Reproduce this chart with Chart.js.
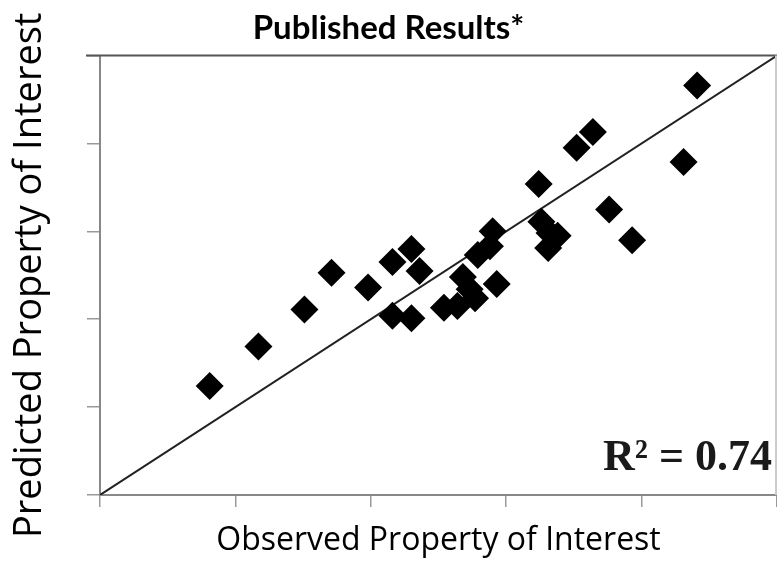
<!DOCTYPE html>
<html>
<head>
<meta charset="utf-8">
<script src="https://cdn.jsdelivr.net/npm/chart.js@4.4.1/dist/chart.umd.min.js"></script>
<style>
  html, body { margin: 0; padding: 0; background: #fff; }
  #wrap { width: 777px; height: 574px; position: relative; }
</style>
</head>
<body>
<div id="wrap"><canvas id="mainChart"></canvas></div>
<script>
// observed (x) vs predicted (y), axis units 0..5
const observed = [0.81, 1.17, 1.51, 1.71, 1.98, 2.16, 2.16, 2.30, 2.30, 2.36,
                  2.54, 2.64, 2.68, 2.73, 2.77, 2.79, 2.88, 2.90, 2.93, 3.24,
                  3.26, 3.32, 3.38, 3.31, 3.52, 3.64, 3.76, 3.93, 4.31, 4.41];
const predicted = [1.24, 1.69, 2.11, 2.53, 2.36, 2.65, 2.04, 2.80, 2.01, 2.55,
                   2.13, 2.15, 2.48, 2.34, 2.24, 2.73, 2.83, 3.00, 2.40, 3.54,
                   3.11, 2.98, 2.95, 2.81, 3.95, 4.13, 3.25, 2.90, 3.79, 4.66];
const parityLine = [{ x: 0, y: 0 }, { x: 5, y: 5 }];
const axisMin = 0;
const axisMax = 5;
const rSquared = 'R\u00B2 = 0.74';

const points = observed.map((x, i) => ({ x, y: predicted[i] }));

// frame around the plot + the R² note
const framePlugin = {
    id: 'frame',
    afterDraw(chart) {
        const { ctx, chartArea: a } = chart;
        ctx.save();
        ctx.lineWidth = 2;
        ctx.strokeStyle = '#555';
        ctx.beginPath();
        ctx.moveTo(a.left - 14, a.top);
        ctx.lineTo(a.right, a.top);
        ctx.stroke();
        ctx.strokeStyle = '#ccc';
        ctx.beginPath();
        ctx.moveTo(a.right - 1, a.top);
        ctx.lineTo(a.right - 1, a.bottom);
        ctx.stroke();
        ctx.fillStyle = '#1a1a1a';
        ctx.font = 'bold 44px "Liberation Serif"';
        ctx.textAlign = 'right';
        ctx.textBaseline = 'alphabetic';
        ctx.fillText(rSquared, a.right - 5, a.bottom - 25);
        ctx.restore();
    }
};

let mainChart;
function drawChart() {
    const ctx = document.getElementById('mainChart').getContext('2d');
    mainChart = new Chart(ctx, {
        type: 'scatter',
        data: {
            datasets: [
                {
                    data: points,
                    pointStyle: 'rectRot',
                    pointRadius: 14,
                    backgroundColor: '#000',
                    borderColor: '#000',
                    borderWidth: 0,
                    order: 1
                },
                {
                    type: 'line',
                    data: parityLine,
                    borderColor: '#222',
                    borderWidth: 2,
                    pointRadius: 0,
                    fill: false,
                    order: 2
                }
            ]
        },
        options: {
            responsive: true,
            maintainAspectRatio: false,
            animation: false,
            layout: { autoPadding: false, padding: 0 },
            plugins: {
                legend: { display: false },
                tooltip: { enabled: false },
                title: {
                    display: true,
                    text: 'Published Results*',
                    color: '#000',
                    font: { family: 'Lato', size: 33, weight: 'bold' },
                    padding: { top: 9, bottom: 7 }
                }
            },
            scales: {
                x: {
                    type: 'linear',
                    min: axisMin,
                    max: axisMax,
                    afterFit: s => { s.height = 79; },
                    ticks: { stepSize: 1, display: false },
                    grid: { drawOnChartArea: false, drawTicks: true, tickLength: 12, color: '#999', lineWidth: 1.5 },
                    border: { display: true, color: '#888', width: 2 },
                    title: {
                        display: true,
                        text: 'Observed Property of Interest',
                        color: '#000',
                        font: { family: '"Open Sans"', size: 32 },
                        padding: { top: 0, bottom: 14 }
                    }
                },
                y: {
                    type: 'linear',
                    min: axisMin,
                    max: axisMax,
                    afterFit: s => { s.width = 100; },
                    ticks: { stepSize: 1, display: false },
                    grid: { drawOnChartArea: false, drawTicks: true, tickLength: 13, color: '#999', lineWidth: 1.5 },
                    border: { display: true, color: '#888', width: 2 },
                    title: {
                        display: true,
                        text: 'Predicted Property of Interest',
                        color: '#000',
                        font: { family: '"Open Sans"', size: 38 },
                        padding: { top: 7, bottom: 0 }
                    }
                }
            }
        },
        plugins: [framePlugin]
    });
}

document.addEventListener('DOMContentLoaded', drawChart);
</script>
</body>
</html>
